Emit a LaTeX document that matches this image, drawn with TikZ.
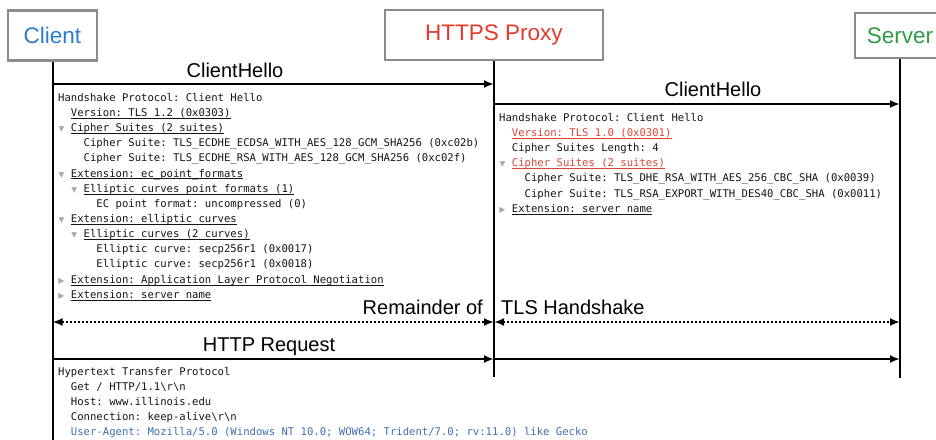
\documentclass[tikz,border=0pt]{standalone}
\usepackage{fontspec}
\setmainfont{Liberation Sans}
\setmonofont{DejaVu Sans Mono}
\newfontfamily\symfont{DejaVu Sans}
\usetikzlibrary{arrows.meta,positioning}

\definecolor{clientblue}{HTML}{2B7BD6}
\definecolor{proxyred}{HTML}{E5392B}
\definecolor{servergreen}{HTML}{2E9B45}
\definecolor{boxgray}{HTML}{8C8C8C}
\definecolor{tlsred}{HTML}{DD4433}
\definecolor{agentblue}{HTML}{3D6FAE}
\definecolor{dumpblack}{HTML}{141414}
\definecolor{trigray}{HTML}{A8A8A8}

% indentation in character columns
\newcommand\ind[1]{\hspace*{#1\fontcharwd\font`\x}}
% open / closed tree marks
\newcommand\opn{\makebox[\fontcharwd\font`\x]{\textcolor{trigray}{\symfont\fontsize{7.5}{7.5}\selectfont ▼}}\ind{1}}
\newcommand\cls{\makebox[\fontcharwd\font`\x]{\textcolor{trigray}{\symfont\fontsize{8}{8}\selectfont ▶}}\ind{1}}
% underlined field
\newcommand\uln[1]{\setbox0\hbox{#1}\rlap{\rule[-2pt]{\wd0}{0.6pt}}\box0}

\begin{document}
\begin{tikzpicture}[x=1pt, y=-1pt,
    actor/.style={draw=boxgray, line width=2.4pt, minimum width=89pt, minimum height=50pt,
      font=\fontsize{22.5}{26}\selectfont},
    life/.style={line width=2pt},
    msg/.style={line width=2pt, -{Latex[length=10pt,width=8pt]}},
    rest/.style={line width=2pt, dotted, {Latex[length=10pt,width=8pt]}-{Latex[length=10pt,width=8pt]}},
    msglabel/.style={font=\fontsize{20}{24}\selectfont, inner sep=0pt},
    dump/.style={font=\ttfamily\fontsize{10.6}{15.15}\selectfont, align=left, anchor=north west,
      inner sep=0pt, text=dumpblack}]
  \clip (0,0) rectangle (936,439);

  % actors
  \node[actor, text=clientblue] (client) at (52.5,35.5) {Client};
  \node[actor, text=proxyred, minimum width=218pt] (proxy) at (494,35) {HTTPS Proxy};
  \node[actor, text=servergreen, minimum width=90pt, minimum height=45pt] (server) at (900,35.5) {Server};

  \coordinate (cEnd) at (client.south |- 0,445);
  \coordinate (pEnd) at (proxy.south |- 0,377);
  \coordinate (sEnd) at (server.south |- 0,378);
  \draw[life] (client.south) -- (cEnd);
  \draw[life] (proxy.south) -- (pEnd);
  \draw[life] (server.south) -- (sEnd);

  % message rows
  \foreach \n/\y in {a/84, b/104, c/322, d/359} {
    \coordinate (c\n) at (client.south |- 0,\y);
    \coordinate (p\n) at (proxy.south |- 0,\y);
    \coordinate (s\n) at (server.south |- 0,\y);
  }

  \draw[msg] (ca) -- (pa);
  \draw[msg] (pb) -- (sb);
  \draw[rest] (cc) -- (pc);
  \draw[rest] (pc) -- (sc);
  \draw[msg] (cd) -- (pd);
  \draw[msg] (pd) -- (sd);

  \node[msglabel, anchor=base] (hello1) at (235,77.5) {ClientHello};
  \node[msglabel, anchor=base] (hello2) at (713,96.7) {ClientHello};
  \node[msglabel, anchor=base east] (remain) at (483,314) {Remainder of};
  \node[msglabel, anchor=base west] (tlshs) at (501,314) {TLS Handshake};
  \node[msglabel, anchor=base] (httpreq) at (269,351.7) {HTTP Request};

  % packet dumps
  \node[dump] (dumpClient) at (58,93) {%
    Handshake Protocol: Client Hello\\
    \ind{2}\uln{Version: TLS 1.2 (0x0303)}\\
    \opn\uln{Cipher Suites (2 suites)}\\
    \ind{4}Cipher Suite: TLS\_ECDHE\_ECDSA\_WITH\_AES\_128\_GCM\_SHA256 (0xc02b)\\
    \ind{4}Cipher Suite: TLS\_ECDHE\_RSA\_WITH\_AES\_128\_GCM\_SHA256 (0xc02f)\\
    \opn\uln{Extension: ec\_point\_formats}\\
    \ind{2}\opn\uln{Elliptic curves point formats (1)}\\
    \ind{6}EC point format: uncompressed (0)\\
    \opn\uln{Extension: elliptic\_curves}\\
    \ind{2}\opn\uln{Elliptic curves (2 curves)}\\
    \ind{6}Elliptic curve: secp256r1 (0x0017)\\
    \ind{6}Elliptic curve: secp256r1 (0x0018)\\
    \cls\uln{Extension: Application Layer Protocol Negotiation}\\
    \cls\uln{Extension: server\_name}};

  \node[dump] (dumpProxy) at (499,113) {%
    Handshake Protocol: Client Hello\\
    \ind{2}\textcolor{tlsred}{\uln{Version: TLS 1.0 (0x0301)}}\\
    \ind{2}Cipher Suites Length: 4\\
    \opn\textcolor{tlsred}{\uln{Cipher Suites (2 suites)}}\\
    \ind{4}Cipher Suite: TLS\_DHE\_RSA\_WITH\_AES\_256\_CBC\_SHA (0x0039)\\
    \ind{4}Cipher Suite: TLS\_RSA\_EXPORT\_WITH\_DES40\_CBC\_SHA (0x0011)\\
    \cls\uln{Extension: server\_name}};

  \node[dump] (dumpHttp) at (58,367) {%
    Hypertext Transfer Protocol\\
    \ind{2}Get / HTTP/1.1\textbackslash r\textbackslash n\\
    \ind{2}Host: www.illinois.edu\\
    \ind{2}Connection: keep-alive\textbackslash r\textbackslash n\\
    \ind{2}\textcolor{agentblue}{User-Agent: Mozilla/5.0 (Windows NT 10.0; WOW64; Trident/7.0; rv:11.0) like Gecko}};
\end{tikzpicture}
\end{document}
